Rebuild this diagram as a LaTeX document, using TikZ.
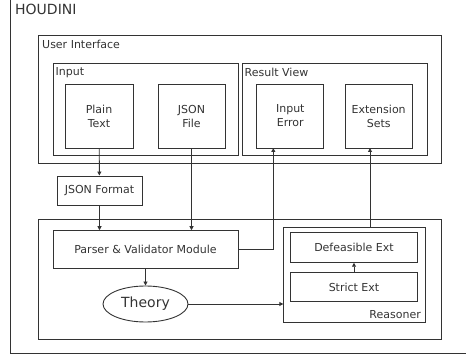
\documentclass[tikz,border=0pt]{standalone}
\usepackage{fontspec}
\setmainfont{DejaVu Sans}
\usepackage{xcolor}
\usepackage{tikz}
\usetikzlibrary{arrows.meta, positioning, shapes.geometric}

\definecolor{ink}{HTML}{333333}

\begin{document}
\begin{tikzpicture}[
  x=1pt, y=-1pt,
  font=\fontsize{11}{14}\selectfont,
  every node/.style={text=ink},
  box/.style={draw=ink, line width=0.9pt, align=center, inner sep=0pt},
  frame/.style={draw=ink, line width=0.9pt, anchor=north west, inner sep=0pt},
  tag/.style={anchor=base west, inner sep=0pt},
  edge/.style={draw=ink, line width=0.9pt, -{Triangle[length=4pt, width=4pt]}}
]
\useasboundingbox (0,0) rectangle (466,355);
\clip (0,0) rectangle (466,355);

\node[frame, minimum width=470pt, minimum height=358pt] (houdini) at (10,-5) {};
\node[tag, font=\fontsize{14}{16}\selectfont] (houdinitag) at (15,15) {HOUDINI};

\node[frame, minimum width=402.7pt, minimum height=127.7pt] (ui) at (38,35) {};
\node[tag] (uitag) at (42,48.3) {User Interface};
\node[frame, minimum width=185pt, minimum height=92pt] (input) at (53,63) {};
\node[tag] (inputtag) at (55.5,76) {Input};
\node[frame, minimum width=184.4pt, minimum height=92pt] (result) at (242.3,63) {};
\node[tag] (resulttag) at (244.5,76.5) {Result View};

\node[box, minimum width=68pt, minimum height=64pt] (plain) at (99,116) {Plain\\Text};
\node[box, minimum width=67pt, minimum height=64pt] (jsonfile) at (191.5,116) {JSON\\File};
\node[box, minimum width=67pt, minimum height=64pt] (inerror) at (290.3,116) {Input\\Error};
\node[box, minimum width=67pt, minimum height=64pt] (extsets) at (378.7,116) {Extension\\Sets};

\node[box, minimum width=85pt, minimum height=29pt] (jsonfmt) at (99.5,190.5) {JSON Format};

\node[frame, minimum width=402.7pt, minimum height=120pt] (core) at (38,219) {};
\node[box, minimum width=185pt, minimum height=37.6pt] (parser) at (145.5,249.5) {Parser \& Validator Module};
\node[box, ellipse, minimum width=85pt, minimum height=36pt, font=\fontsize{14}{16}\selectfont] (theory) at (145.5,304) {Theory};

\node[frame, minimum width=141.7pt, minimum height=95pt] (reasoner) at (283.3,226.7) {};
\node[tag, anchor=base east] (reasonertag) at (421,318.3) {Reasoner};
\node[box, minimum width=127.4pt, minimum height=30pt] (defeas) at (354,247.3) {Defeasible Ext};
\node[box, minimum width=127.4pt, minimum height=29.4pt] (strict) at (354,287) {Strict Ext};

\coordinate (errin) at (273.3,148);
\coordinate (setsin) at (370,148);

\draw[edge] (plain) -- (jsonfmt);
\draw[edge] (jsonfmt.south) -- (jsonfmt.south |- parser.north);
\draw[edge] (jsonfile.south) -- (jsonfile.south |- parser.north);
\draw[edge] (parser.east) -| (errin);
\draw[edge] (parser) -- (theory);
\draw[edge] (theory.east) -- (theory.east -| reasoner.west);
\draw[edge] (strict.north -| defeas.south) -- (defeas.south);
\draw[edge] (reasoner.north -| setsin) -- (setsin);
\end{tikzpicture}
\end{document}
